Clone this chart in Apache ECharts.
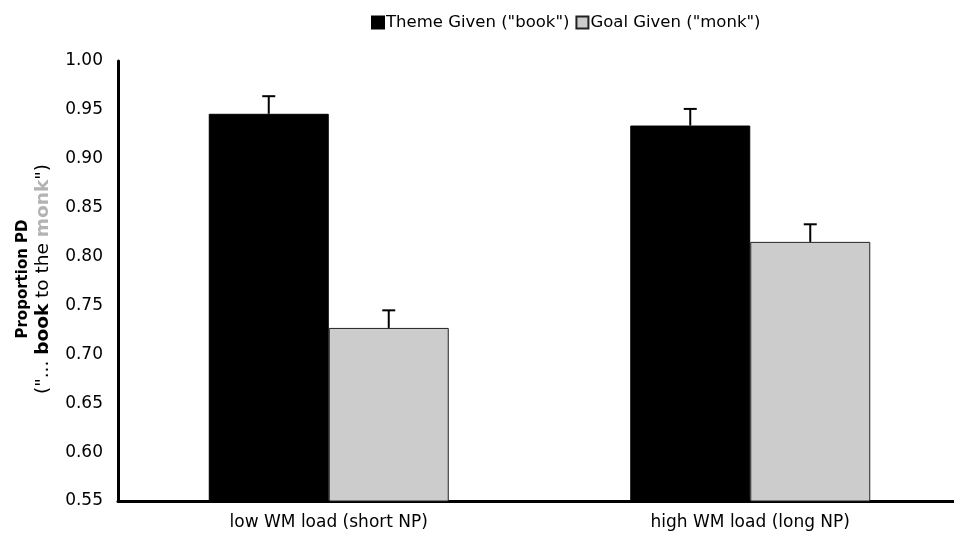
<!DOCTYPE html>
<html>
<head>
<meta charset="utf-8">
<script src="https://cdn.jsdelivr.net/npm/echarts@6/dist/echarts.min.js"></script>
<style>
  html, body { margin: 0; padding: 0; background: #ffffff; overflow: hidden; }
  #chart { width: 962px; height: 542px; }
</style>
</head>
<body>
<div id="chart"></div>
<script>
// Conditions on the x axis
const categories = ['low WM load (short NP)', 'high WM load (long NP)'];

// Proportion of PD responses per condition
const themeGiven = [0.946, 0.934];
const goalGiven = [0.727, 0.815];

// Upper error-bar lengths
const themeErr = [0.018, 0.017];
const goalErr = [0.018, 0.018];

// Value axis ticks
const yMin = 0.55;
const yMax = 1.00;
const yStep = 0.05;

const seriesNames = ['Theme Given ("book")', 'Goal Given ("monk")'];

const FONT = 'DejaVu Sans, Verdana, sans-serif';
const BAR_W = 120;

const chart = echarts.init(document.getElementById('chart'), null, { renderer: 'canvas' });

// Draws a one-sided (upward) error bar centred on a bar of the given slot
function errorBar(values, errs, slot) {
  return function (params, api) {
    const i = api.value(0);
    const v = values[i];
    const e = errs[i];
    const base = api.coord([i, v]);
    const top = api.coord([i, v + e]);
    const x = base[0] + slot * (BAR_W / 2);
    const half = 6.5;
    const style = { stroke: '#000000', lineWidth: 2, fill: null };
    return {
      type: 'group',
      children: [
        { type: 'line', shape: { x1: x, y1: base[1], x2: x, y2: top[1] }, style: style },
        { type: 'line', shape: { x1: x - half, y1: top[1], x2: x + half, y2: top[1] }, style: style }
      ]
    };
  };
}

const option = {
  backgroundColor: '#ffffff',
  animation: false,
  textStyle: { fontFamily: FONT },
  legend: {
    data: seriesNames,
    icon: 'rect',
    left: 366,
    top: 9,
    itemWidth: 12,
    itemHeight: 12,
    itemGap: 6,
    textStyle: { fontFamily: FONT, fontSize: 16.5, color: '#000000', padding: [0, 0, 0, -3] }
  },
  grid: { left: 118, top: 61, width: 843, height: 440, containLabel: false },
  xAxis: {
    type: 'category',
    data: categories,
    axisLine: { show: true, lineStyle: { color: '#000000', width: 3 } },
    axisTick: { show: false },
    axisLabel: { fontFamily: FONT, fontSize: 17, color: '#000000', margin: 13 },
    splitLine: { show: false }
  },
  yAxis: {
    type: 'value',
    min: yMin,
    max: yMax,
    interval: yStep,
    axisLine: { show: true, lineStyle: { color: '#000000', width: 3 } },
    axisTick: { show: false },
    splitLine: { show: false },
    axisLabel: {
      fontFamily: FONT, fontSize: 17, color: '#000000', margin: 15,
      formatter: function (v) { return v.toFixed(2); }
    }
  },
  graphic: [{
    type: 'text',
    x: 33,
    y: 279,
    rotation: Math.PI / 2,
    style: {
      text: '{b|Proportion PD}\n{r|("... }{bb|book}{r| to the }{g|monk}{r|")}',
      align: 'center',
      verticalAlign: 'middle',
      fontFamily: FONT,
      lineHeight: 20,
      rich: {
        b: { fontFamily: FONT, fontSize: 15, fontWeight: 'bold', fill: '#000000', lineHeight: 20 },
        bb: { fontFamily: FONT, fontSize: 18.5, fontWeight: 'bold', fill: '#000000', lineHeight: 20 },
        r: { fontFamily: FONT, fontSize: 18.5, fill: '#000000', lineHeight: 20 },
        g: { fontFamily: FONT, fontSize: 18.5, fontWeight: 'bold', fill: '#b3b3b3', lineHeight: 20 }
      }
    }
  }],
  series: [
    {
      name: seriesNames[0],
      type: 'bar',
      data: themeGiven,
      barWidth: BAR_W,
      barGap: '0%',
      itemStyle: { color: '#000000', borderColor: '#000000', borderWidth: 1 }
    },
    {
      name: seriesNames[1],
      type: 'bar',
      data: goalGiven,
      barWidth: BAR_W,
      barGap: '0%',
      itemStyle: { color: '#cccccc', borderColor: '#222222', borderWidth: 1 }
    },
    {
      type: 'custom',
      name: 'themeErr',
      data: themeGiven.map(function (v, i) { return [i, v]; }),
      renderItem: errorBar(themeGiven, themeErr, -1),
      z: 5,
      silent: true
    },
    {
      type: 'custom',
      name: 'goalErr',
      data: goalGiven.map(function (v, i) { return [i, v]; }),
      renderItem: errorBar(goalGiven, goalErr, 1),
      z: 5,
      silent: true
    }
  ]
};

chart.setOption(option);
</script>
</body>
</html>
